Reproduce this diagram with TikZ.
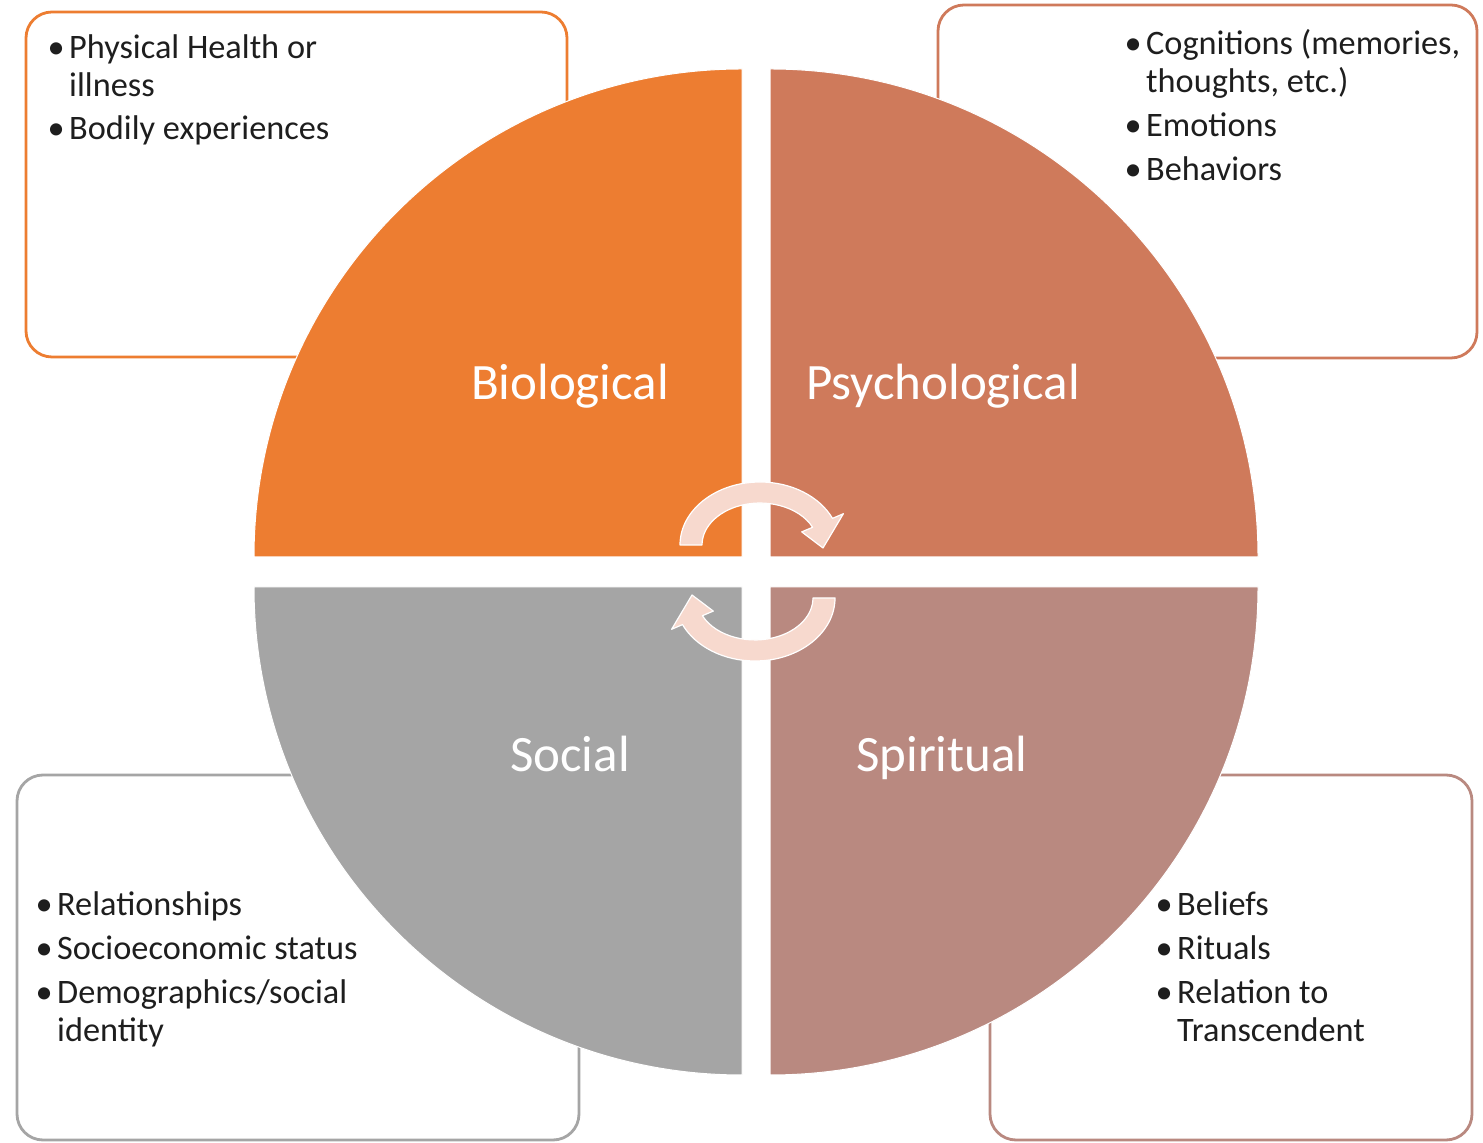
\documentclass[tikz,border=0pt]{standalone}
\usepackage{fontspec}
\setmainfont{Carlito}
\definecolor{bio}{HTML}{ED7D31}
\definecolor{psy}{HTML}{CF7A5B}
\definecolor{soc}{HTML}{A5A5A5}
\definecolor{spi}{HTML}{B98980}
\definecolor{arr}{HTML}{F7D9CE}
\definecolor{txt}{HTML}{1E1E1E}
\newcommand\bul{\makebox[0pt]{\textbullet}\hspace{13pt}}
\tikzset{
  infobox/.style={rounded corners=26pt, line width=2.8pt, fill=white, inner sep=0pt},
  quad/.style={draw=white, line width=1pt},
  lbl/.style={text=white, font=\fontsize{51}{60}\selectfont, anchor=base, inner sep=0pt},
  bullets/.style={text=txt, font=\fontsize{34.3}{38}\selectfont, anchor=base west, inner sep=0pt},
  cyc/.style={fill=arr, draw=white, line width=1.2pt, line join=round}
}
\begin{document}
\begin{tikzpicture}[x=1pt,y=1pt]
\useasboundingbox[fill=white] (0,0) rectangle (1483,1143);
% boxes
\node[infobox, draw=bio, minimum width=541pt, minimum height=345pt] (boxbio) at (296.5,958.5) {};
\node[infobox, draw=psy, minimum width=539pt, minimum height=353pt] (boxpsy) at (1207.5,961.5) {};
\node[infobox, draw=soc, minimum width=562pt, minimum height=365pt] (boxsoc) at (298,185.5) {};
\node[infobox, draw=spi, minimum width=482pt, minimum height=365pt] (boxspi) at (1231,185.5) {};
% quadrants
\fill[bio, quad] (742,586) -- (254,586) arc[start angle=180, end angle=90, radius=488] -- cycle;
\fill[psy, quad] (770,586) -- (770,1074) arc[start angle=90, end angle=0, radius=488] -- cycle;
\fill[soc, quad] (742,556) -- (254,556) arc[start angle=180, end angle=270, radius=488] -- cycle;
\fill[spi, quad] (770,556) -- (1258,556) arc[start angle=0, end angle=-90, radius=488] -- cycle;
% labels
\node[lbl] (lbio) at (570,743) {Biological};
\node[lbl] (lpsy) at (943,743) {Psychological};
\node[lbl] (lsoc) at (570,371) {Social};
\node[lbl] (lspi) at (942,371) {Spiritual};
% cycle arrows
\path[cyc] (680,598) arc[start angle=180, end angle=25, x radius=80, y radius=63]
  -- (843.4,629.3) -- (823,595) -- (801.7,611.1)
  -- (812.6,615.7) arc[start angle=25, end angle=180, x radius=58, y radius=42] -- cycle;
\begin{scope}[rotate around={180:(757.5,571.5)}]
\path[cyc] (680,598) arc[start angle=180, end angle=25, x radius=80, y radius=63]
  -- (843.4,629.3) -- (823,595) -- (801.7,611.1)
  -- (812.6,615.7) arc[start angle=25, end angle=180, x radius=58, y radius=42] -- cycle;
\end{scope}
% bullet texts
\node[bullets] (tbio) at (56,1084) {\begin{tabular}[t]{@{}l@{}}
\bul Physical Health or\\ \hspace{13pt}illness\\[5pt]
\bul Bodily experiences\end{tabular}};
\node[bullets] (tpsy) at (1133,1088) {\begin{tabular}[t]{@{}l@{}}
\bul Cognitions (memories,\\ \hspace{13pt}thoughts, etc.)\\[6pt]
\bul Emotions\\[6pt]
\bul Behaviors\end{tabular}};
\node[bullets] (tsoc) at (44,227) {\begin{tabular}[t]{@{}l@{}}
\bul Relationships\\[6pt]
\bul Socioeconomic status\\[6pt]
\bul Demographics/social\\ \hspace{13pt}identity\end{tabular}};
\node[bullets] (tspi) at (1164,227) {\begin{tabular}[t]{@{}l@{}}
\bul Beliefs\\[6pt]
\bul Rituals\\[6pt]
\bul Relation to\\ \hspace{13pt}Transcendent\end{tabular}};
\end{tikzpicture}
\end{document}
